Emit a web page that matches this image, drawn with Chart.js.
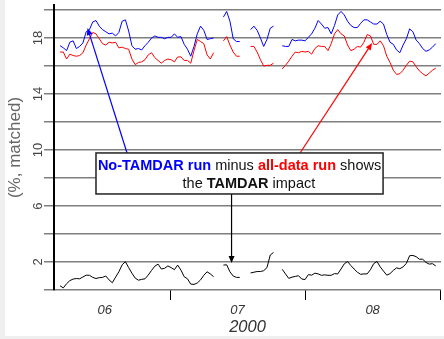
<!DOCTYPE html>
<html>
<head>
<meta charset="utf-8">
<title>TAMDAR impact</title>
<style>
  * { margin: 0; padding: 0; }
  body { background: #efefef; width: 444px; height: 339px; overflow: hidden; font-family: 'Liberation Sans', Arial, sans-serif; }
  #wrap { position: absolute; left: 5px; top: 0; width: 439px; height: 336px; background: #fff; }
</style>
<script src="https://cdn.jsdelivr.net/npm/chart.js"></script>
</head>
<body>
<div id="wrap"><canvas id="chart" width="439" height="336"></canvas></div>
<script>
// x = days since 1 June 2000, one reading every 18 h, four unbroken stretches
const segStart = [4.75, 42.25, 48.5, 55.75];
const step = 0.75;

// No-TAMDAR run
const noTamdar = [
  [17.45, 17.3, 17.1, 17.7, 17.8, 17.25, 17.4, 17.65, 18.45, 18.6,
   19.15, 19.25, 18.85, 18.6, 18.45, 18.3, 18.35, 18.15, 18.4, 19.2,
   19.3, 18.5, 17.45, 17.2, 17.25, 17.15, 17.45, 17.7, 18.0, 18.15,
   18.05, 18.05, 17.95, 18.05, 18.05, 18.3, 18.05, 18.1, 17.55, 17.2,
   16.7, 17.4, 18.3, 18.85, 18.55, 17.9, 17.95, 18.0],
  [19.5, 19.9, 19.2, 17.95, 17.75, 17.75],
  [18.6, 18.85, 18.55, 18.0, 17.4, 17.9, 18.7, 18.85],
  [17.45, 17.4, 17.4, 17.9, 17.8, 17.85, 17.85, 17.8, 18.05, 18.3,
   18.7, 19.25, 19.0, 18.7, 18.75, 18.3, 18.9, 19.65, 19.9, 19.65,
   19.2, 18.9, 18.75, 18.75, 19.05, 19.3, 19.3, 19.15, 19.0, 19.0,
   19.2, 19.0, 18.25, 17.7, 17.55, 17.15, 16.95, 17.5, 17.95, 18.65,
   18.45, 17.85, 17.6, 17.25, 17.05, 17.15, 17.35, 17.6]
];

// all-data run
const allData = [
  [17.0, 17.0, 16.5, 16.85, 16.75, 16.7, 16.75, 16.95, 17.5, 17.95,
   18.4, 18.3, 17.95, 17.6, 17.5, 17.7, 17.65, 17.7, 17.3, 17.35,
   17.25, 17.2, 16.5, 16.1, 16.25, 16.3, 16.45, 16.8, 16.95, 16.6,
   16.4, 16.2, 16.4, 16.5, 16.45, 16.3, 16.65, 16.65, 16.4, 16.4,
   16.2, 17.1, 17.9, 17.75, 17.6, 16.8, 16.5, 16.95],
  [17.8, 18.1, 17.5, 17.0, 16.7, 16.7],
  [17.4, 17.4, 17.0, 16.45, 16.0, 16.05, 16.05, 16.2],
  [15.8, 16.05, 16.35, 16.7, 17.0, 16.95, 17.05, 17.0, 17.05, 16.85,
   17.25, 17.45, 17.4, 17.4, 17.1, 17.6, 18.3, 18.6, 18.3, 18.15,
   17.5, 17.1, 17.2, 17.4, 17.35, 17.7, 18.25, 18.15, 17.55, 17.55,
   17.8, 17.45, 16.7, 16.25, 15.7, 15.4, 15.45, 15.7, 16.05, 16.35,
   16.3, 15.95, 15.65, 15.45, 15.3, 15.5, 15.7, 15.85]
];

// difference: the TAMDAR impact
const impact = [
  [0.3, 0.15, 0.45, 0.67, 0.78, 0.82, 0.8, 0.93, 1.06, 1.05,
   0.9, 0.82, 0.88, 0.9, 1.0, 0.72, 0.52, 0.92, 1.3, 1.8,
   2.02, 1.6, 1.2, 0.85, 0.7, 0.76, 0.8, 1.07, 1.4, 1.7,
   1.85, 1.5, 1.55, 1.72, 1.6, 1.45, 1.78, 1.42, 0.95, 0.8,
   0.42, 0.4, 0.5, 0.72, 1.05, 1.3, 1.15, 0.95],
  [1.78, 1.8, 1.3, 1.0, 0.9, 0.9],
  [1.22, 1.27, 1.32, 1.32, 1.38, 1.6, 2.5, 2.68],
  [1.48, 1.15, 0.83, 0.92, 0.97, 1.02, 0.78, 0.75, 1.1, 1.06,
   1.2, 1.15, 1.05, 1.08, 1.05, 1.05, 1.17, 1.15, 1.5, 1.87,
   2.03, 1.75, 1.5, 1.27, 1.12, 1.15, 1.15, 1.45, 1.88, 2.04,
   1.65, 1.35, 1.06, 1.17, 1.4, 1.58, 1.52, 1.65, 1.9, 2.45,
   2.47, 2.38, 2.2, 2.2, 1.97, 1.85, 1.88, 1.72]
];

const yGridTicks = [0, 2, 4, 6, 8, 10, 12, 14, 16, 18, 20];
const yLabelTicks = [2, 6, 10, 14, 18];
const monthEdges = [30, 61, 92];        // 1 Jul, 1 Aug, 1 Sep
const monthMid = [15, 45.5, 76.5];
const monthLabels = ['06', '07', '08'];

// annotation anchors, in data units (day, %)
const noteBox = { x0: 13.0, x1: 78.9, yTop: 9.79, yBot: 6.86 };
const noteLine1 = { x: 45.95, y: 8.86 };
const noteLine2 = { x: 48.1, y: 7.57 };
const blueArrow = { from: [20.13, 9.79], to: [11.06, 18.71] };
const redArrow = { from: [59.85, 9.79], to: [76.38, 17.64] };
const blackArrow = { from: [44.12, 6.86], to: [44.12, 1.93] };

function toPoints(segs) {
  const pts = [];
  segs.forEach((seg, s) => {
    if (s > 0) pts.push({ x: segStart[s] - step / 2, y: null });
    seg.forEach((v, i) => pts.push({ x: segStart[s] + i * step, y: v }));
  });
  return pts;
}

const FONT = "'Liberation Sans', Arial, sans-serif";

function arrow(ctx, x1, y1, x2, y2, color) {
  const a = Math.atan2(y2 - y1, x2 - x1);
  ctx.strokeStyle = color;
  ctx.fillStyle = color;
  ctx.lineWidth = 1.2;
  ctx.beginPath();
  ctx.moveTo(x1, y1);
  ctx.lineTo(x2 - 4 * Math.cos(a), y2 - 4 * Math.sin(a));
  ctx.stroke();
  ctx.beginPath();
  ctx.moveTo(x2, y2);
  ctx.lineTo(x2 - 7 * Math.cos(a) + 3 * Math.sin(a), y2 - 7 * Math.sin(a) - 3 * Math.cos(a));
  ctx.lineTo(x2 - 7 * Math.cos(a) - 3 * Math.sin(a), y2 - 7 * Math.sin(a) + 3 * Math.cos(a));
  ctx.closePath();
  ctx.fill();
}

function runs(ctx, parts, cx, cy) {
  const size = 14.5;
  let total = 0;
  parts.forEach(p => { ctx.font = p[1] + ' ' + size + 'px ' + FONT; total += ctx.measureText(p[0]).width; });
  let x = cx - total / 2;
  ctx.textAlign = 'left';
  ctx.textBaseline = 'middle';
  parts.forEach(p => {
    ctx.font = p[1] + ' ' + size + 'px ' + FONT;
    ctx.fillStyle = p[2];
    ctx.fillText(p[0], x, cy);
    x += ctx.measureText(p[0]).width;
  });
}

const overlay = {
  id: 'overlay',
  afterDatasetsDraw(chart) {
    const ctx = chart.ctx, xs = chart.scales.x, ys = chart.scales.y;
    const px = v => xs.getPixelForValue(v), py = v => ys.getPixelForValue(v);
    ctx.save();
    // rotated y tick labels
    ctx.font = '13px ' + FONT;
    ctx.fillStyle = '#444';
    ctx.textAlign = 'center';
    ctx.textBaseline = 'middle';
    yLabelTicks.forEach(v => {
      ctx.save();
      ctx.translate(ys.right - 16, py(v));
      ctx.rotate(-Math.PI / 2);
      ctx.fillText(String(v), 0, 0);
      ctx.restore();
    });
    // arrows
    arrow(ctx, px(blueArrow.from[0]), py(blueArrow.from[1]), px(blueArrow.to[0]), py(blueArrow.to[1]), '#0000ff');
    arrow(ctx, px(redArrow.from[0]), py(redArrow.from[1]), px(redArrow.to[0]), py(redArrow.to[1]), '#ff0000');
    arrow(ctx, px(blackArrow.from[0]), py(blackArrow.from[1]), px(blackArrow.to[0]), py(blackArrow.to[1]), '#000');
    // note box
    const bx = px(noteBox.x0), by = py(noteBox.yTop);
    const bw = px(noteBox.x1) - bx, bh = py(noteBox.yBot) - by;
    ctx.fillStyle = '#fff';
    ctx.fillRect(bx, by, bw, bh);
    ctx.strokeStyle = '#222';
    ctx.lineWidth = 1.5;
    ctx.strokeRect(bx, by, bw, bh);
    runs(ctx, [['No-TAMDAR run', 'bold', '#0000ff'], [' minus ', 'normal', '#111'],
               ['all-data run', 'bold', '#ff0000'], [' shows', 'normal', '#111']],
         px(noteLine1.x), py(noteLine1.y));
    runs(ctx, [['the ', 'normal', '#111'], ['TAMDAR', 'bold', '#111'], [' impact', 'normal', '#111']],
         px(noteLine2.x), py(noteLine2.y));
    ctx.restore();
  }
};

const ctx = document.getElementById('chart').getContext('2d');
new Chart(ctx, {
  type: 'line',
  data: {
    datasets: [
      { data: toPoints(noTamdar), borderColor: '#0000ff', borderWidth: 1 },
      { data: toPoints(allData), borderColor: '#ff0000', borderWidth: 1 },
      { data: toPoints(impact), borderColor: '#000000', borderWidth: 1 }
    ]
  },
  options: {
    responsive: false,
    animation: false,
    elements: { point: { radius: 0 }, line: { tension: 0 } },
    layout: { padding: { top: 5, right: 3, left: 0, bottom: 0 } },
    plugins: { legend: { display: false }, tooltip: { enabled: false } },
    scales: {
      x: {
        type: 'linear',
        min: 3.36,
        max: 92.2,
        afterBuildTicks: s => {
          s.ticks = monthMid.concat(monthEdges).sort((a, b) => a - b).map(v => ({ value: v }));
        },
        ticks: {
          autoSkip: false,
          maxRotation: 0,
          padding: 3,
          color: '#333',
          font: { family: FONT, size: 13, style: 'italic' },
          callback: v => { const i = monthMid.indexOf(v); return i < 0 ? '' : monthLabels[i]; }
        },
        grid: {
          drawOnChartArea: false,
          tickLength: 10,
          lineWidth: 1,
          tickColor: c => (c.tick && monthEdges.includes(c.tick.value)) ? '#000' : 'rgba(0,0,0,0)'
        },
        border: { display: false },
        title: {
          display: true, text: '2000', color: '#333', padding: 0,
          font: { family: FONT, size: 16.5, style: 'italic', lineHeight: 1 }
        },
        afterFit: s => { s.height = 46; }
      },
      y: {
        min: 0,
        max: 20.36,
        afterBuildTicks: s => { s.ticks = yGridTicks.map(v => ({ value: v })); },
        ticks: { display: false },
        grid: { color: '#7f7f7f', lineWidth: 1.5, tickLength: 10, tickColor: '#7f7f7f' },
        border: { color: '#000', width: 2 },
        title: {
          display: true, text: '(%, matched)', color: '#666', padding: 0,
          font: { family: FONT, size: 17 }
        },
        afterFit: s => { s.width = 49; }
      }
    }
  },
  plugins: [overlay]
});
</script>
</body>
</html>
